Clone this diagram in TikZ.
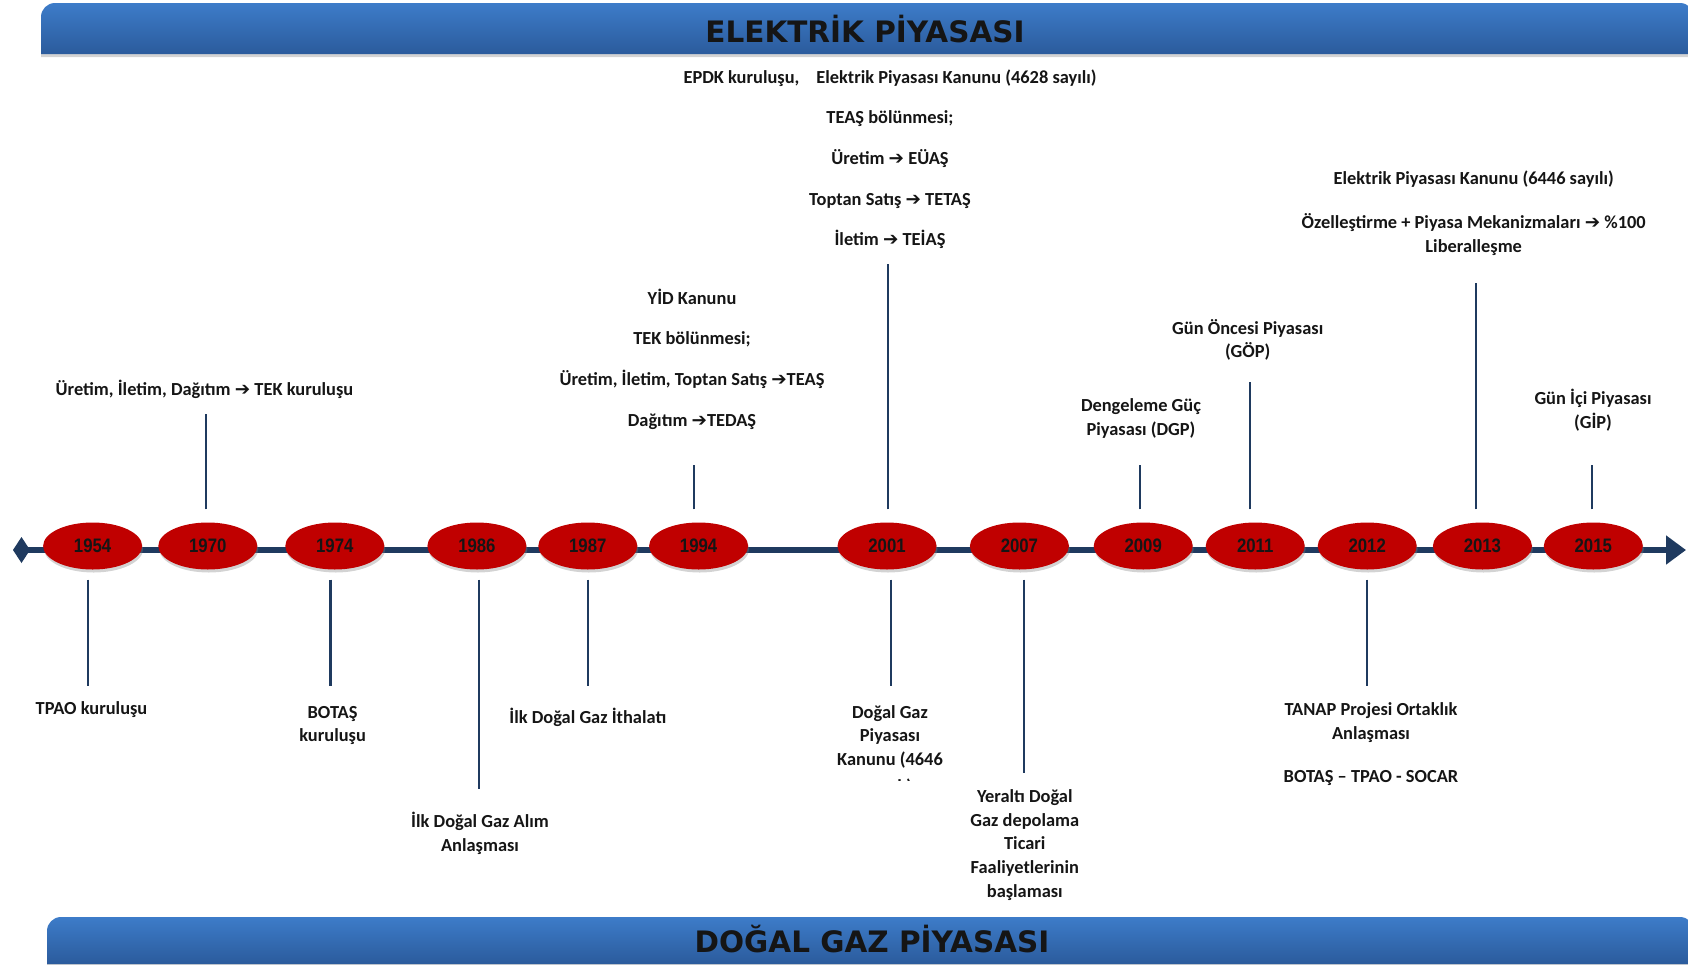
\documentclass[tikz,border=0pt]{standalone}
\usepackage{fontspec}
\setmainfont{Carlito}
\newfontfamily\yearfont{Liberation Sans}
\newfontfamily\titlefont{DejaVu Sans}
\newfontfamily\arrowfont{DejaVu Sans}
\usetikzlibrary{shapes.geometric,arrows.meta,shadows,positioning}

\definecolor{barlight}{HTML}{3D7CC9}
\definecolor{bardark}{HTML}{2B5B9C}
\definecolor{yearred}{HTML}{C00000}
\definecolor{linenavy}{HTML}{1F3A5F}
\definecolor{textdark}{HTML}{151515}

\newcommand{\ra}{{\arrowfont\bfseries\char"2794}}

\tikzset{
  banner/.style={top color=barlight, bottom color=bardark, draw=none,
    drop shadow={shadow xshift=0pt, shadow yshift=-3pt, opacity=0.35}},
  bannertitle/.style={font=\titlefont\bfseries\fontsize{29.5}{30}\selectfont, text=textdark, inner sep=0pt},
  year/.style={ellipse, fill=yearred, minimum width=99pt, minimum height=47pt, inner sep=0pt,
    font=\yearfont\bfseries\fontsize{19.5}{19.5}\selectfont, text=textdark,
    drop shadow={shadow xshift=1pt, shadow yshift=-3pt, opacity=0.35}},
  conn/.style={draw=linenavy, line width=2.2pt},
  event/.style={align=center, inner sep=0pt, text=textdark,
    font=\bfseries\fontsize{18.4}{23.7}\selectfont},
}

\begin{document}
\begin{tikzpicture}[x=1pt,y=-1pt]
\useasboundingbox (0,0) rectangle (1688,964);

% banners
\path[banner] (41,54) [rounded corners=14pt] -- (41,3) -- (1694,3) [sharp corners] -- (1694,54) -- cycle;
\node[bannertitle] (elektrik) at (865,29.5) {ELEKTRİK PİYASASI};
\path[banner] (47,964) [rounded corners=14pt] -- (47,917) -- (1694,917) [sharp corners] -- (1694,964) -- cycle;
\node[bannertitle] (dogalgaz) at (872,939) {DOĞAL GAZ PİYASASI};

% timeline
\coordinate (tlstart) at (13,550);
\coordinate (tlend) at (1686,550);
\draw[draw=linenavy, line width=5.5pt, {Diamond[length=17pt,width=26pt]}-{Triangle[length=20pt,width=28pt]}] (tlstart) -- (tlend);

\foreach \yr/\xx in {1954/92.6, 1970/207.8, 1974/334.8, 1986/476.9, 1987/587.8, 1994/698.6,
  2001/887.0, 2007/1019.4, 2009/1143.2, 2011/1255.2, 2012/1367.2, 2013/1482.4, 2015/1593.3}
  \node[year] (e\yr) at (\xx,546) {\scalebox{0.86}[1]{\yr}};

% events above
\node[event] (t1970) at (204.5,389.7) {Üretim, İletim, Dağıtım \ra{} TEK kuruluşu};
\node[event] (t1994) at (692,359) {YİD Kanunu\\[17pt] TEK bölünmesi;\\[17pt] Üretim, İletim, Toptan Satış \ra TEAŞ\\[17pt] Dağıtım \ra TEDAŞ};
\node[event] (t2001) at (890,159.3) {EPDK kuruluşu,\hspace{0.7em} Elektrik Piyasası Kanunu (4628 sayılı)\\[17pt]
  TEAŞ bölünmesi;\\[17pt] Üretim \ra{} EÜAŞ\\[17pt] Toptan Satış \ra{} TETAŞ\\[17pt] İletim \ra{} TEİAŞ};
\node[event] (t2009) at (1141,418.8) {Dengeleme Güç\\ Piyasası (DGP)};
\node[event] (t2011) at (1247.7,340) {Gün Öncesi Piyasası\\ (GÖP)};
\node[event] (t2013) at (1473.7,213.2) {Elektrik Piyasası Kanunu (6446 sayılı)\\[21pt]
  Özelleştirme + Piyasa Mekanizmaları \ra{} \%100\\ Liberalleşme};
\node[event] (t2015) at (1593,410) {Gün İçi Piyasası\\ (GİP)};

% events below
\node[event] (b1954) at (91.5,709.4) {TPAO kuruluşu};
\node[event] (b1974) at (332.6,725.5) {BOTAŞ\\ kuruluşu};
\node[event] (b1986) at (480,833.2) {İlk Doğal Gaz Alım\\ Anlaşması};
\node[event] (b1987) at (587.8,717) {İlk Doğal Gaz İthalatı};
\node[event] (b2001) at (890,736.8) {Doğal Gaz\\ Piyasası\\ Kanunu (4646};
\begin{scope}
  \clip (850,777) rectangle (940,780);
  \node[event] (b2001cut) at (890,787) {sayılı)};
\end{scope}
\node[event] (b2007) at (1024.8,845) {Yeraltı Doğal\\ Gaz depolama\\ Ticari\\ Faaliyetlerinin\\ başlaması};
\node[event] (b2012) at (1371,744) {TANAP Projesi Ortaklık\\ Anlaşması\\[19pt] BOTAŞ -- TPAO - SOCAR};

% connectors up
\foreach \yr/\xx/\yy in {1970/205.6/414, 1994/694/465, 2001/888/264, 2009/1140/465,
  2011/1250/382, 2013/1476/283, 2015/1592/465} {
  \coordinate (u\yr) at (\xx,\yy);
  \draw[conn, shorten <=13pt] (u\yr |- e\yr.north) -- (u\yr);
}
% connectors down
\foreach \yr/\xx/\yy in {1954/88/686, 1974/330.5/686, 1986/479/789, 1987/588/686,
  2001/891/686, 2007/1024/773, 2012/1367/686} {
  \coordinate (d\yr) at (\xx,\yy);
  \draw[conn, shorten <=10pt] (d\yr |- e\yr.south) -- (d\yr);
}
\end{tikzpicture}
\end{document}
